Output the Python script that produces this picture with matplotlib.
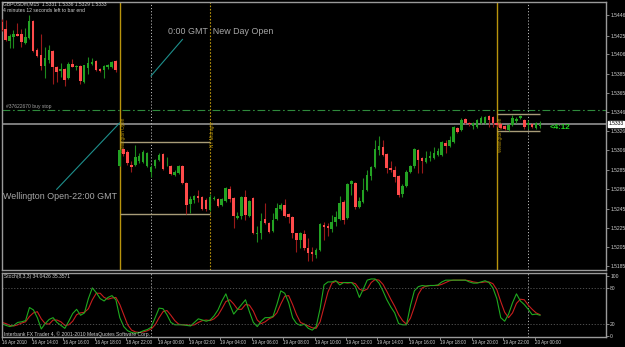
import matplotlib
matplotlib.use('Agg')
import matplotlib.pyplot as plt
import numpy as np
from matplotlib.transforms import blended_transform_factory

plt.rcParams['font.family'] = ['Liberation Sans', 'DejaVu Sans']

# ---------------------------------------------------------------
# Data: GBPUSDm M15 bars
# ---------------------------------------------------------------
opens = [
    1.5439, 1.5432, 1.5419, 1.5424, 1.5427, 1.5427, 1.5417, 1.5423, 1.5440, 1.5410,
    1.5405, 1.5393, 1.5400, 1.5409, 1.5392, 1.5388, 1.5390, 1.5381, 1.5395, 1.5392,
    1.5393, 1.5377, 1.5391, 1.5395, 1.5399, 1.5390, 1.5389, 1.5392, 1.5392, 1.5399,
    1.5289, 1.5307, 1.5304, 1.5290, 1.5290, 1.5294, 1.5293, 1.5289, 1.5283, 1.5289,
    1.5296, 1.5302, 1.5295, 1.5289, 1.5280, 1.5282, 1.5289, 1.5272, 1.5250, 1.5254,
    1.5258, 1.5257, 1.5254, 1.5243, 1.5255, 1.5255, 1.5249, 1.5253, 1.5265, 1.5256,
    1.5235, 1.5237, 1.5257, 1.5237, 1.5256, 1.5218, 1.5219, 1.5234, 1.5230, 1.5222,
    1.5234, 1.5244, 1.5249, 1.5239, 1.5236, 1.5219, 1.5212, 1.5218, 1.5204, 1.5200,
    1.5197, 1.5202, 1.5228, 1.5227, 1.5224, 1.5231, 1.5234, 1.5252, 1.5235, 1.5271,
    1.5272, 1.5247, 1.5252, 1.5264, 1.5279, 1.5288, 1.5306, 1.5309, 1.5302, 1.5287,
    1.5285, 1.5279, 1.5260, 1.5268, 1.5283, 1.5289, 1.5306, 1.5298, 1.5293, 1.5298,
    1.5298, 1.5301, 1.5301, 1.5313, 1.5310, 1.5314, 1.5329, 1.5327, 1.5338, 1.5334,
    1.5331, 1.5330, 1.5334, 1.5334, 1.5341, 1.5340, 1.5334, 1.5333, 1.5331, 1.5327,
    1.5332, 1.5336, 1.5339, 1.5337, 1.5332, 1.5333, 1.5329, 1.5331]
highs = [
    1.5442, 1.5441, 1.5427, 1.5431, 1.5438, 1.5432, 1.5433, 1.5446, 1.5441, 1.5412,
    1.5427, 1.5413, 1.5415, 1.5410, 1.5393, 1.5396, 1.5391, 1.5398, 1.5401, 1.5394,
    1.5394, 1.5394, 1.5403, 1.5402, 1.5400, 1.5391, 1.5394, 1.5395, 1.5399, 1.5400,
    1.5307, 1.5308, 1.5306, 1.5294, 1.5311, 1.5303, 1.5306, 1.5304, 1.5290, 1.5297,
    1.5303, 1.5303, 1.5299, 1.5290, 1.5285, 1.5290, 1.5290, 1.5273, 1.5258, 1.5259,
    1.5264, 1.5258, 1.5256, 1.5260, 1.5258, 1.5256, 1.5256, 1.5267, 1.5268, 1.5257,
    1.5241, 1.5258, 1.5264, 1.5254, 1.5257, 1.5227, 1.5240, 1.5251, 1.5231, 1.5240,
    1.5251, 1.5251, 1.5255, 1.5240, 1.5237, 1.5220, 1.5221, 1.5223, 1.5214, 1.5205,
    1.5204, 1.5230, 1.5231, 1.5230, 1.5238, 1.5242, 1.5258, 1.5254, 1.5272, 1.5275,
    1.5273, 1.5257, 1.5277, 1.5285, 1.5289, 1.5316, 1.5321, 1.5316, 1.5303, 1.5294,
    1.5289, 1.5280, 1.5271, 1.5285, 1.5290, 1.5308, 1.5307, 1.5299, 1.5305, 1.5305,
    1.5309, 1.5308, 1.5315, 1.5316, 1.5320, 1.5331, 1.5330, 1.5339, 1.5339, 1.5335,
    1.5335, 1.5338, 1.5341, 1.5341, 1.5342, 1.5341, 1.5335, 1.5334, 1.5332, 1.5333,
    1.5342, 1.5340, 1.5342, 1.5338, 1.5337, 1.5334, 1.5335, 1.5336]
lows = [
    1.5430, 1.5419, 1.5412, 1.5412, 1.5425, 1.5413, 1.5416, 1.5422, 1.5408, 1.5403,
    1.5389, 1.5381, 1.5396, 1.5375, 1.5377, 1.5382, 1.5373, 1.5380, 1.5392, 1.5389,
    1.5375, 1.5376, 1.5385, 1.5394, 1.5388, 1.5387, 1.5381, 1.5390, 1.5391, 1.5387,
    1.5289, 1.5300, 1.5290, 1.5283, 1.5289, 1.5292, 1.5292, 1.5288, 1.5278, 1.5287,
    1.5294, 1.5285, 1.5289, 1.5280, 1.5279, 1.5281, 1.5271, 1.5239, 1.5240, 1.5251,
    1.5252, 1.5243, 1.5242, 1.5242, 1.5254, 1.5247, 1.5248, 1.5252, 1.5252, 1.5225,
    1.5234, 1.5234, 1.5233, 1.5236, 1.5218, 1.5210, 1.5213, 1.5229, 1.5219, 1.5221,
    1.5233, 1.5243, 1.5236, 1.5230, 1.5214, 1.5200, 1.5204, 1.5202, 1.5190, 1.5190,
    1.5193, 1.5201, 1.5212, 1.5216, 1.5221, 1.5227, 1.5233, 1.5229, 1.5234, 1.5259,
    1.5245, 1.5246, 1.5251, 1.5263, 1.5275, 1.5287, 1.5301, 1.5300, 1.5282, 1.5283,
    1.5273, 1.5257, 1.5257, 1.5267, 1.5282, 1.5287, 1.5282, 1.5282, 1.5292, 1.5294,
    1.5297, 1.5300, 1.5300, 1.5303, 1.5309, 1.5313, 1.5324, 1.5326, 1.5333, 1.5331,
    1.5328, 1.5329, 1.5333, 1.5333, 1.5330, 1.5330, 1.5330, 1.5328, 1.5327, 1.5326,
    1.5331, 1.5334, 1.5338, 1.5328, 1.5328, 1.5329, 1.5328, 1.5329]
closes = [
    1.5431, 1.5420, 1.5425, 1.5427, 1.5425, 1.5418, 1.5424, 1.5440, 1.5409, 1.5404,
    1.5393, 1.5402, 1.5410, 1.5392, 1.5387, 1.5390, 1.5379, 1.5395, 1.5392, 1.5393,
    1.5378, 1.5394, 1.5397, 1.5398, 1.5389, 1.5388, 1.5393, 1.5394, 1.5398, 1.5389,
    1.5306, 1.5302, 1.5292, 1.5288, 1.5299, 1.5300, 1.5304, 1.5303, 1.5288, 1.5296,
    1.5301, 1.5286, 1.5296, 1.5281, 1.5283, 1.5289, 1.5272, 1.5249, 1.5255, 1.5258,
    1.5256, 1.5245, 1.5244, 1.5257, 1.5256, 1.5248, 1.5255, 1.5266, 1.5255, 1.5237,
    1.5237, 1.5257, 1.5238, 1.5253, 1.5219, 1.5220, 1.5232, 1.5230, 1.5221, 1.5233,
    1.5246, 1.5249, 1.5237, 1.5236, 1.5219, 1.5212, 1.5219, 1.5204, 1.5199, 1.5198,
    1.5202, 1.5229, 1.5226, 1.5225, 1.5231, 1.5236, 1.5251, 1.5233, 1.5271, 1.5274,
    1.5247, 1.5253, 1.5264, 1.5280, 1.5288, 1.5307, 1.5310, 1.5301, 1.5287, 1.5285,
    1.5278, 1.5259, 1.5268, 1.5283, 1.5289, 1.5307, 1.5295, 1.5294, 1.5298, 1.5300,
    1.5303, 1.5305, 1.5314, 1.5310, 1.5316, 1.5330, 1.5325, 1.5337, 1.5334, 1.5333,
    1.5334, 1.5337, 1.5339, 1.5340, 1.5337, 1.5334, 1.5332, 1.5329, 1.5328, 1.5332,
    1.5339, 1.5338, 1.5341, 1.5330, 1.5334, 1.5330, 1.5334, 1.5333]

# Stochastic(8,3,3): main (green) and signal (red)
stoch_main = [
    20, 17, 15, 17, 22, 23, 25, 47, 43, 30, 11, 20, 27, 30, 22, 17, 12, 24, 37, 44,
    34, 38, 62, 80, 72, 62, 58, 64, 67, 60, 30, 15, 8, 5, 4, 5, 8, 10, 14, 30,
    46, 45, 35, 22, 18, 18, 18, 17, 16, 22, 28, 26, 24, 26, 33, 43, 58, 70, 52, 36,
    44, 52, 60, 40, 22, 15, 24, 30, 30, 32, 52, 75, 71, 55, 30, 20, 17, 19, 12, 9,
    15, 45, 85, 90, 90, 92, 85, 89, 89, 89, 82, 64, 78, 93, 95, 95, 88, 75, 60, 48,
    38, 20, 18, 18, 50, 75, 82, 84, 83, 84, 84, 85, 90, 93, 93, 93, 93, 93, 93, 90,
    88, 88, 90, 92, 89, 80, 62, 30, 24, 36, 55, 70, 58, 52, 44, 35, 36, 34]
stoch_signal = [
    22, 20, 17, 16, 18, 21, 23, 32, 38, 40, 28, 20, 19, 26, 26, 23, 17, 18, 24, 35,
    38, 39, 45, 60, 71, 71, 64, 61, 63, 64, 52, 35, 18, 9, 6, 5, 6, 8, 11, 18,
    30, 40, 42, 34, 25, 19, 18, 18, 17, 18, 22, 25, 26, 25, 28, 34, 45, 57, 60, 53,
    44, 44, 52, 51, 41, 26, 20, 23, 28, 31, 38, 53, 66, 67, 52, 35, 22, 19, 16, 13,
    12, 23, 48, 73, 88, 91, 89, 89, 88, 89, 87, 78, 75, 78, 89, 94, 93, 86, 74, 61,
    49, 35, 25, 19, 29, 48, 69, 80, 83, 84, 84, 84, 86, 89, 92, 93, 93, 93, 93, 92,
    90, 89, 89, 90, 90, 87, 77, 57, 39, 30, 38, 54, 61, 60, 51, 44, 38, 35]

price_ticks = [1.5446, 1.5425, 1.5406, 1.5385, 1.5365, 1.5346, 1.5326,
               1.5306, 1.5285, 1.5265, 1.5245, 1.5225, 1.5205, 1.5185]
time_labels = ['16 Apr 2010', '16 Apr 14:00', '16 Apr 16:00', '16 Apr 18:00',
               '18 Apr 22:00', '19 Apr 00:00', '19 Apr 02:00', '19 Apr 04:00',
               '19 Apr 06:00', '19 Apr 08:00', '19 Apr 10:00', '19 Apr 12:00',
               '19 Apr 14:00', '19 Apr 16:00', '19 Apr 18:00', '19 Apr 20:00',
               '19 Apr 22:00', '20 Apr 00:00']

bid = 1.5333
buy_stop = 1.5348
wellington_bars = [30, 126]
ny_midnight_bar = 53
day_separators = [38, 134]
# range boxes: (start bar, end bar, high, low)
boxes = [(30, 53, 1.5314, 1.5239), (126, 137, 1.5343, 1.5326)]
# annotation trend lines
wel_line_bars, wel_line_prices = [30, 14], [1.5334, 1.5265]
day_line_bars, day_line_prices = [38, 46], [1.5383, 1.5421]

# ---------------------------------------------------------------
# Styles
# ---------------------------------------------------------------
bg = 'black'
spine_col = '#9a9a9a'
txt_col = '#d0d0d0'
bull, bull_wick = '#23a323', '#1d8a1d'
bear, bear_wick = '#ff4b4b', '#9a1a1a'
gold = '#b8940c'
box_col = '#a89c78'
teal = '#1e8f8c'
small = 3.6

fig = plt.figure(figsize=(6.25, 3.47), dpi=100, facecolor=bg)
ax = fig.add_axes([2/625, 1-270/347, 604/625, 268/347], facecolor=bg)
ax2 = fig.add_axes([2/625, 1-337/347, 604/625, 64/347], facecolor=bg)

n = len(opens)
x = np.arange(n)
o = np.array(opens); c = np.array(closes)
up = c >= o

# Candles
ax.vlines(x, lows, highs, colors=np.where(up, bull_wick, bear_wick), lw=0.8, zorder=3)
ax.bar(x, np.maximum(np.abs(c - o), 0.00006), bottom=np.minimum(o, c), width=0.65,
       color=np.where(up, bull, bear), lw=0, zorder=4)

# Horizontal lines
ax.axhline(bid, color='#858585', lw=1.3, zorder=2)
ax.axhline(buy_stop, color='#2f8a3c', lw=0.8, ls=(0, (7, 2.5, 1.5, 2.5)), zorder=2)
ax.text(1, buy_stop + 0.00004, '#37622670 buy stop', color='#a0a0a0', fontsize=small,
        va='bottom', ha='left')

# Vertical lines
for b in wellington_bars:
    ax.axvline(b, color=gold, lw=1.0, zorder=2)
    ax.text(b + 0.9, 1.5340, 'Wellington Open', color=gold, fontsize=3.3,
            rotation=90, va='top', ha='center')
ax.axvline(ny_midnight_bar, color=gold, lw=0.8, ls=(0, (1.5, 1.5)), zorder=2)
ax.text(ny_midnight_bar + 0.6, 1.5335, 'NY Midnight', color=gold, fontsize=3.3,
        rotation=90, va='top', ha='center')
for b in day_separators:
    for a in (ax, ax2):
        a.axvline(b, color='#b8b8b8', lw=0.7, ls=(0, (1.2, 2)), zorder=2)

# Range boxes
for b0, b1, hi, lo in boxes:
    ax.hlines([hi, lo], b0, b1, color=box_col, lw=1.0, zorder=2)

# Annotation lines and text
ax.plot(wel_line_bars, wel_line_prices, color=teal, lw=0.8, zorder=2)
ax.plot(day_line_bars, day_line_prices, color=teal, lw=0.8, zorder=2)
ax.text(42.3, 1.5429, '0:00 GMT  New Day Open', color='#a8a8a8', fontsize=6.4,
        va='center', ha='left')
ax.text(0.3, 1.5258, 'Wellington Open-22:00 GMT', color='#a8a8a8', fontsize=6.4,
        va='center', ha='left')
ax.text(139.5, 1.5329, '<4:12', color='#22d822', fontsize=5.8, fontweight='bold',
        va='center', ha='left')

# Header text
fig.text(3/625, 1-4/347, 'GBPUSDm,M15  1.5331 1.5336 1.5329 1.5333', color=txt_col,
         fontsize=3.6, va='center', ha='left')
fig.text(3/625, 1-10/347, '4 minutes 12 seconds left to bar end', color=txt_col,
         fontsize=3.6, va='center', ha='left')

# Main axis limits / ticks
ax.set_xlim(0.08, 153.8)
ax.set_ylim(1.5181, 1.5460)
ax.set_xticks([])
ax.yaxis.tick_right()
ax.set_yticks(price_ticks)
ax.set_yticklabels(['%.4f' % p for p in price_ticks])
ax.tick_params(axis='y', colors=spine_col, labelcolor=txt_col, labelsize=small,
               length=2, width=0.6, pad=1)
tr = blended_transform_factory(ax.transAxes, ax.transData)
ax.text(1.004, bid, '%.4f' % bid, transform=tr, fontsize=small, color='black',
        va='center', ha='left',
        bbox=dict(boxstyle='square,pad=0.15', fc='white', ec='white'))

# Stochastic window
ax2.plot(x, stoch_signal, color='#c81e1e', lw=0.8)
ax2.plot(x, stoch_main, color='#1faa1f', lw=0.8)
ax2.axhline(80, color='#5a5a5a', lw=0.6, ls=(0, (1.5, 2)))
ax2.axhline(20, color='#5a5a5a', lw=0.6, ls=(0, (1.5, 2)))
ax2.set_xlim(0.08, 153.8)
ax2.set_ylim(-2.5, 105)
ax2.yaxis.tick_right()
ax2.set_yticks([0, 20, 80, 100])
ax2.tick_params(axis='y', colors=spine_col, labelcolor=txt_col, labelsize=small,
                length=2, width=0.6, pad=1)
tick_pos = [0] + [8 * i - 0.4 for i in range(1, len(time_labels))]
ax2.set_xticks(tick_pos)
ax2.set_xticklabels(time_labels, ha='left')
ax2.tick_params(axis='x', colors=spine_col, labelcolor=txt_col, labelsize=3.3,
                length=2, width=0.6, pad=0.5)
ax2.text(0.003, 0.94, 'Stoch(8,3,3) 34.0426 35.3571', transform=ax2.transAxes,
         color=txt_col, fontsize=small, va='center', ha='left')
ax2.text(0.003, 0.05, 'Interbank FX Trader 4, \u00a9 2001-2010 MetaQuotes Software Corp.',
         transform=ax2.transAxes, color=txt_col, fontsize=small, va='center', ha='left')

for a in (ax, ax2):
    for s in a.spines.values():
        s.set_color(spine_col)
        s.set_linewidth(1.0)

fig.savefig('out.png', dpi=100, facecolor=bg)
